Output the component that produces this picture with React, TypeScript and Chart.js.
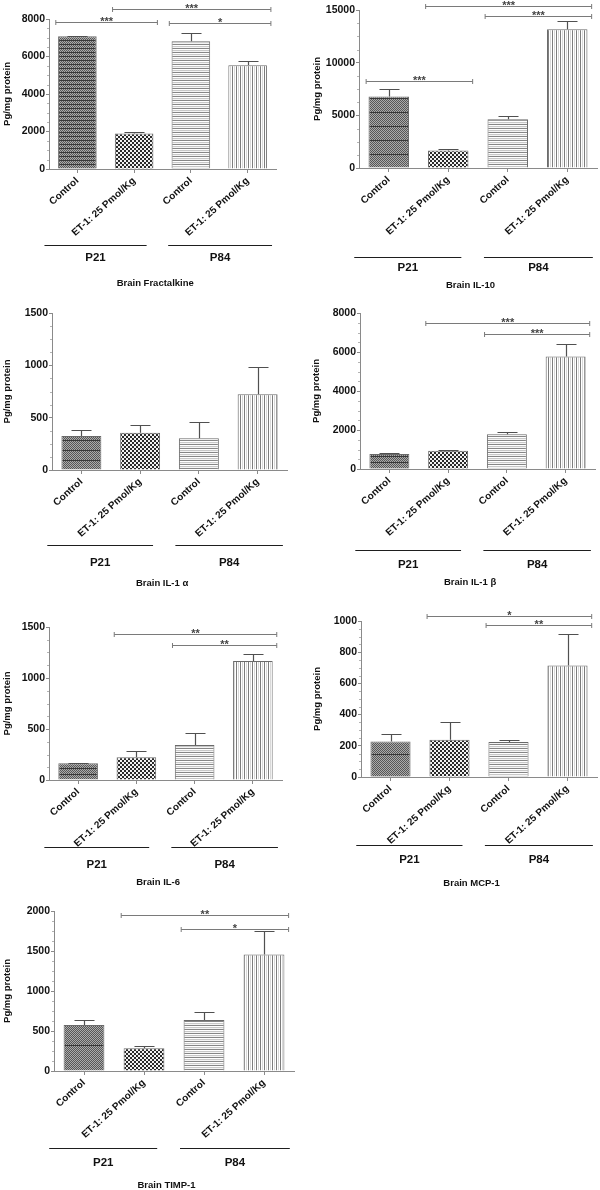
import React, { useEffect, useRef } from "react";
import { Chart, registerables } from "chart.js";
Chart.register(...registerables);

// ---------- data ----------
const categories = ["Control", "ET-1: 25 Pmol/Kg", "Control", "ET-1: 25 Pmol/Kg"];
const groupLabels = ["P21", "P84"];
const yAxisTitle = "Pg/mg protein";

const fractalkineMeans = [7080, 1900, 6810, 5530];
const fractalkineErr = [30, 90, 420, 210];
const fractalkineSig = [
  { from: 0, to: 1, y: 7820, label: "***" },
  { from: 1, to: 3, y: 8530, label: "***" },
  { from: 2, to: 3, y: 7790, label: "*" },
];

const il10Means = [6790, 1670, 4640, 13170];
const il10Err = [730, 130, 340, 810];
const il10Sig = [
  { from: 0, to: 1, y: 8270, label: "***" },
  { from: 1, to: 3, y: 15380, label: "***" },
  { from: 2, to: 3, y: 14430, label: "***" },
];

const il1aMeans = [325, 357, 303, 724];
const il1aErr = [58, 71, 160, 259];
const il1aSig: Sig[] = [];

const il1bMeans = [771, 942, 1782, 5771];
const il1bErr = [40, 15, 118, 616];
const il1bSig = [
  { from: 1, to: 3, y: 7490, label: "***" },
  { from: 2, to: 3, y: 6900, label: "***" },
];

const il6Means = [165, 222, 342, 1167];
const il6Err = [5, 65, 121, 73];
const il6Sig = [
  { from: 1, to: 3, y: 1429, label: "**" },
  { from: 2, to: 3, y: 1328, label: "**" },
];

const mcp1Means = [227, 238, 225, 715];
const mcp1Err = [49, 117, 13, 200];
const mcp1Sig = [
  { from: 1, to: 3, y: 1031, label: "*" },
  { from: 2, to: 3, y: 976, label: "**" },
];

const timp1Means = [574, 283, 636, 1456];
const timp1Err = [62, 33, 96, 291];
const timp1Sig = [
  { from: 1, to: 3, y: 1946, label: "**" },
  { from: 2, to: 3, y: 1775, label: "*" },
];

type Sig = { from: number; to: number; y: number; label: string };

type Panel = {
  title: string;
  means: number[];
  errors: number[];
  sig: Sig[];
  max: number;
  step: number;
  ctrlPeriod: number;
  box: [number, number, number, number]; // left, top, width, height (page px)
  area: [number, number, number, number]; // left, top, right, bottom (page px)
  yTitlePad: number;
  groupLineDy: number;
  groupLabelDy: number;
  titleDy: number;
};

const panels: Panel[] = [
  {
    title: "Brain Fractalkine", means: fractalkineMeans, errors: fractalkineErr, sig: fractalkineSig,
    max: 8000, step: 2000, ctrlPeriod: 4,
    box: [0, 0, 300, 300], area: [49, 19, 276, 169], yTitlePad: 1.5,
    groupLineDy: 76, groupLabelDy: 89, titleDy: 114,
  },
  {
    title: "Brain IL-10", means: il10Means, errors: il10Err, sig: il10Sig,
    max: 15000, step: 5000, ctrlPeriod: 14,
    box: [300, 0, 300, 300], area: [359, 10, 597, 168], yTitlePad: 12,
    groupLineDy: 89, groupLabelDy: 100, titleDy: 117,
  },
  {
    title: "Brain IL-1 α", means: il1aMeans, errors: il1aErr, sig: il1aSig,
    max: 1500, step: 500, ctrlPeriod: 10,
    box: [0, 300, 300, 300], area: [52, 313, 287, 470], yTitlePad: 1.5,
    groupLineDy: 75, groupLabelDy: 93, titleDy: 113,
  },
  {
    title: "Brain IL-1 β", means: il1bMeans, errors: il1bErr, sig: il1bSig,
    max: 8000, step: 2000, ctrlPeriod: 6,
    box: [300, 300, 300, 300], area: [360, 313, 595, 469], yTitlePad: 11,
    groupLineDy: 81, groupLabelDy: 96, titleDy: 113,
  },
  {
    title: "Brain IL-6", means: il6Means, errors: il6Err, sig: il6Sig,
    max: 1500, step: 500, ctrlPeriod: 6,
    box: [0, 600, 300, 292], area: [49, 627, 282, 780], yTitlePad: 1.5,
    groupLineDy: 67, groupLabelDy: 85, titleDy: 102,
  },
  {
    title: "Brain MCP-1", means: mcp1Means, errors: mcp1Err, sig: mcp1Sig,
    max: 1000, step: 200, ctrlPeriod: 22,
    box: [300, 600, 300, 292], area: [361, 621, 597, 777], yTitlePad: 11.5,
    groupLineDy: 68, groupLabelDy: 83, titleDy: 106,
  },
  {
    title: "Brain TIMP-1", means: timp1Means, errors: timp1Err, sig: timp1Sig,
    max: 2000, step: 500, ctrlPeriod: 40,
    box: [0, 885, 300, 305], area: [54, 911, 294, 1071], yTitlePad: 2,
    groupLineDy: 77, groupLabelDy: 92, titleDy: 114,
  },
];

// ---------- patterns ----------
function tile(w: number, h: number, draw: (g: CanvasRenderingContext2D) => void) {
  const c = document.createElement("canvas");
  c.width = w;
  c.height = h;
  draw(c.getContext("2d")!);
  return c;
}

function makePatterns(ctx: CanvasRenderingContext2D, ctrlPeriod: number) {
  const ctrlP21 = tile(4, ctrlPeriod, (g) => {
    for (let y = 0; y < ctrlPeriod; y++)
      for (let x = 0; x < 4; x++) {
        g.fillStyle = (x + y) % 2 === 0 ? "#575757" : "#ababab";
        g.fillRect(x, y, 1, 1);
      }
    g.fillStyle = "#383838";
    g.fillRect(0, 0, 4, 1);
  });
  const etP21 = tile(4, 4, (g) => {
    g.fillStyle = "#2a2a2a";
    g.fillRect(0, 0, 4, 4);
    g.fillStyle = "#f2f2f2";
    g.fillRect(0, 0, 2, 2);
    g.fillRect(2, 2, 2, 2);
  });
  const ctrlP84 = tile(1, 4, (g) => {
    const cols = ["#868686", "#ffffff", "#c8c8c8", "#f4f4f4"];
    cols.forEach((c, i) => {
      g.fillStyle = c;
      g.fillRect(0, i, 1, 1);
    });
  });
  const etP84 = tile(4, 1, (g) => {
    const cols = ["#7c7c7c", "#ffffff", "#d8d8d8", "#ffffff"];
    cols.forEach((c, i) => {
      g.fillStyle = c;
      g.fillRect(i, 0, 1, 1);
    });
  });
  return [ctrlP21, etP21, ctrlP84, etP84].map((t) => ctx.createPattern(t, "repeat")!);
}

const FONT = "'Liberation Sans', Arial, sans-serif";

function panelPlugin(p: Panel) {
  return {
    id: "panelExtras",
    afterDatasetsDraw(chart: any) {
      const { ctx, chartArea } = chart;
      const xs = chart.scales.x;
      const ys = chart.scales.y;
      ctx.save();
      // minor ticks on y axis
      ctx.strokeStyle = "#b4b4b4";
      ctx.lineWidth = 1;
      const minor = p.step / 4;
      for (let v = minor; v < p.max; v += minor) {
        if (Math.abs(v / p.step - Math.round(v / p.step)) < 1e-6) continue;
        const y = Math.round(ys.getPixelForValue(v)) + 0.5;
        ctx.beginPath();
        ctx.moveTo(chartArea.left - 2, y);
        ctx.lineTo(chartArea.left, y);
        ctx.stroke();
      }
      // error bars
      ctx.strokeStyle = "#505050";
      ctx.lineWidth = 1.2;
      p.means.forEach((m, i) => {
        const e = p.errors[i];
        if (!e) return;
        const x = Math.round(xs.getPixelForValue(i)) + 0.5;
        const yb = ys.getPixelForValue(m);
        const yt = Math.round(ys.getPixelForValue(m + e)) + 0.5;
        ctx.beginPath();
        ctx.moveTo(x, yb);
        ctx.lineTo(x, yt);
        ctx.moveTo(x - 10, yt);
        ctx.lineTo(x + 10, yt);
        ctx.stroke();
      });
      const w = xs.getPixelForValue(1) - xs.getPixelForValue(0);
      // significance brackets
      ctx.strokeStyle = "#7a7a7a";
      ctx.lineWidth = 1;
      ctx.fillStyle = "#444";
      ctx.font = `bold 11px ${FONT}`;
      ctx.textAlign = "center";
      ctx.textBaseline = "alphabetic";
      p.sig.forEach((s) => {
        const x1 = xs.getPixelForValue(s.from) - 0.38 * w;
        const x2 = xs.getPixelForValue(s.to) + 0.41 * w;
        const y = Math.round(ys.getPixelForValue(s.y)) + 0.5;
        ctx.beginPath();
        ctx.moveTo(x1, y);
        ctx.lineTo(x2, y);
        ctx.moveTo(x1, y - 2.5);
        ctx.lineTo(x1, y + 2.5);
        ctx.moveTo(x2, y - 2.5);
        ctx.lineTo(x2, y + 2.5);
        ctx.stroke();
        ctx.fillText(s.label, (x1 + x2) / 2, y + 2);
      });
      // group lines and labels
      const x0 = xs.getPixelForValue(0);
      const x1 = xs.getPixelForValue(1);
      const x2 = xs.getPixelForValue(2);
      const x3 = xs.getPixelForValue(3);
      const spans = [
        [x0 - 0.58 * w, x1 + 0.22 * w],
        [x2 - 0.4 * w, x3 + 0.43 * w],
      ];
      const gy = Math.round(chartArea.bottom + p.groupLineDy) + 0.5;
      ctx.strokeStyle = "#1e1e1e";
      ctx.lineWidth = 1.2;
      ctx.fillStyle = "#111";
      ctx.font = `bold 11.5px ${FONT}`;
      ctx.textBaseline = "middle";
      spans.forEach(([a, b], i) => {
        ctx.beginPath();
        ctx.moveTo(a, gy);
        ctx.lineTo(b, gy);
        ctx.stroke();
        ctx.fillText(groupLabels[i], (a + b) / 2, chartArea.bottom + p.groupLabelDy);
      });
      ctx.font = `bold 9.5px ${FONT}`;
      ctx.fillText(p.title, (spans[0][0] + spans[1][1]) / 2 - 3, chartArea.bottom + p.titleDy);
      ctx.restore();
    },
  };
}

function PanelChart({ p }: { p: Panel }) {
  const ref = useRef<HTMLCanvasElement>(null);
  useEffect(() => {
    const canvas = ref.current!;
    const ctx = canvas.getContext("2d")!;
    const [bl, bt, bw, bh] = p.box;
    const [al, at, ar, ab] = p.area;
    const pats = makePatterns(ctx, p.ctrlPeriod);
    const chart = new Chart(ctx, {
      type: "bar",
      data: {
        labels: categories,
        datasets: [
          {
            data: p.means,
            backgroundColor: pats as any,
            borderColor: "#6a6a6a",
            borderWidth: 1,
            barPercentage: 0.68,
            categoryPercentage: 1,
          },
        ],
      },
      options: {
        animation: false,
        responsive: false,
        maintainAspectRatio: false,
        devicePixelRatio: 1,
        layout: { padding: { left: 0, top: at - bt, right: bl + bw - ar, bottom: 0 } },
        plugins: { legend: { display: false }, tooltip: { enabled: false } },
        scales: {
          x: {
            grid: { display: true, drawOnChartArea: false, offset: false, tickLength: 4, color: "#8a8a8a" },
            border: { color: "#8a8a8a" },
            ticks: {
              autoSkip: false,
              maxRotation: 42,
              minRotation: 42,
              padding: 2,
              color: "#111",
              font: { family: FONT, size: 10, weight: "bold" },
            },
            afterFit: (s: any) => {
              s.height = bt + bh - ab;
            },
          },
          y: {
            min: 0,
            max: p.max,
            ticks: {
              stepSize: p.step,
              padding: 1,
              color: "#111",
              font: { family: FONT, size: 10.5, weight: "bold" },
              callback: (v: any) => String(v),
            },
            grid: { drawOnChartArea: false, tickLength: 3, color: "#8a8a8a" },
            border: { color: "#8a8a8a" },
            title: {
              display: true,
              text: yAxisTitle,
              color: "#111",
              padding: { top: p.yTitlePad, bottom: 0 },
              font: { family: FONT, size: 9.5, weight: "bold" },
            },
            afterFit: (s: any) => {
              s.width = al - bl;
            },
          },
        },
      } as any,
      plugins: [panelPlugin(p)],
    });
    return () => chart.destroy();
  }, [p]);
  const [l, t, w, h] = p.box;
  return (
    <canvas
      ref={ref}
      width={w}
      height={h}
      style={{ position: "absolute", left: l, top: t, width: w, height: h }}
    />
  );
}

export default function App() {
  return (
    <div style={{ position: "absolute", left: 0, top: 0, width: 600, height: 1190, background: "#fff" }}>
      {panels.map((p, i) => (
        <PanelChart key={i} p={p} />
      ))}
    </div>
  );
}
